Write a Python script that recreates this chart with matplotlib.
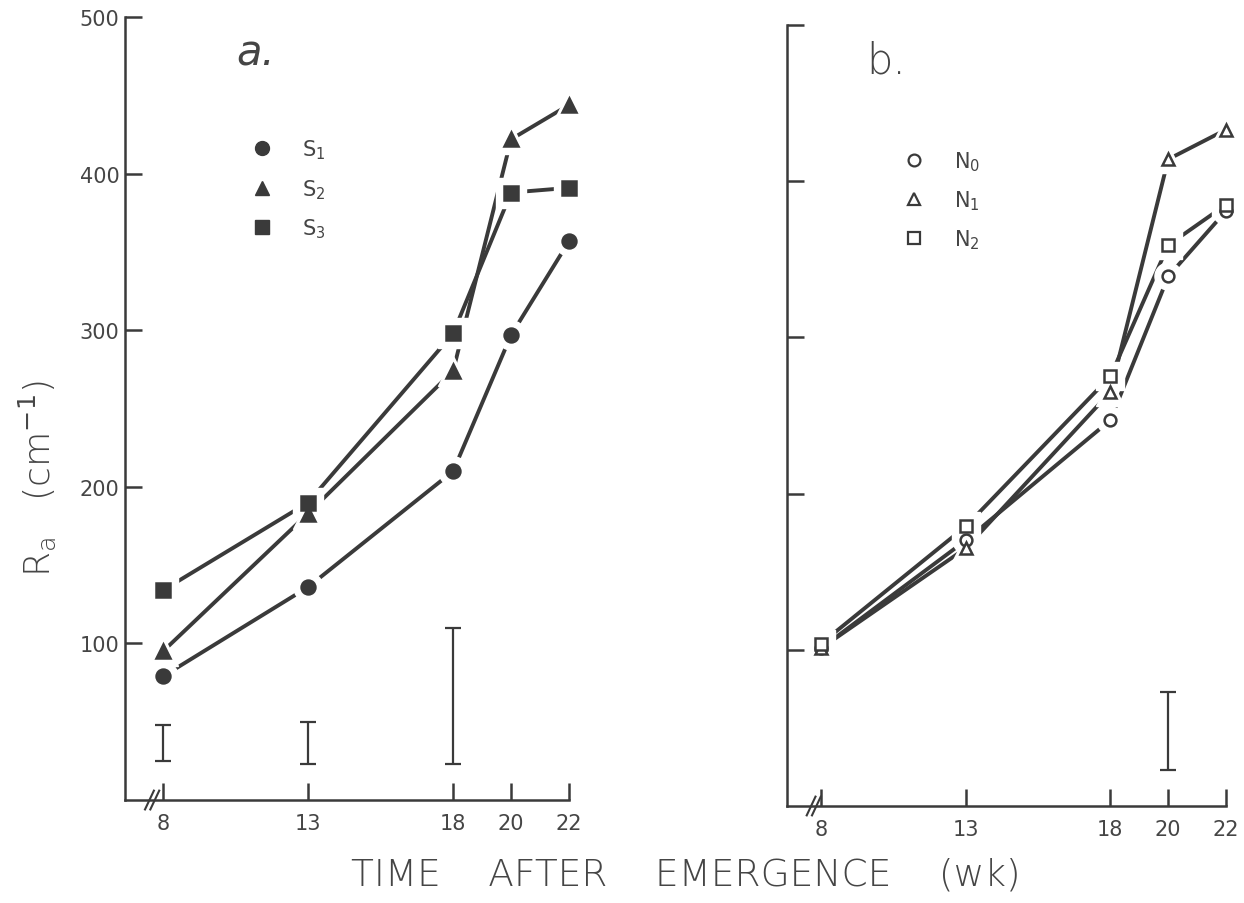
import numpy as np
import matplotlib
matplotlib.use("Agg")
import matplotlib.pyplot as plt
from matplotlib.lines import Line2D

# root length density Ra (cm^-1) against time after emergence (wk)
weeks = [8, 13, 18, 20, 22]

s1 = [79, 136, 210, 297, 357]
s2 = [95, 183, 274, 422, 444]
s3 = [134, 190, 298, 388, 391]

n0 = [101, 170, 247, 339, 381]
n1 = [101, 165, 265, 414, 433]
n2 = [104, 179, 275, 359, 385]

# LSD bars
lsd_a_weeks = [8, 13, 18]
lsd_a_low = [25, 23, 23]
lsd_a_high = [48, 50, 110]
lsd_b_weeks = [20]
lsd_b_low = [23]
lsd_b_high = [73]

ink = "#3a3a3a"
txt = "#454545"
plt.rcParams["font.family"] = ["DejaVu Sans"]
plt.rcParams["mathtext.fontset"] = "dejavusans"

fig = plt.figure(figsize=(12.44, 9.04), dpi=100)
ax_a = fig.add_axes([0.1005, 0.1139, 0.357, 0.866])
ax_b = fig.add_axes([0.6326, 0.1073, 0.353, 0.864])


def draw_series(ax, series, marker, filled, size):
    for ys in series:
        ax.plot(weeks, ys, color=ink, lw=2.8, zorder=2, solid_capstyle="butt")
    # white halos so the lines stop short of the symbols
    for ys, m in zip(series, marker):
        ax.plot(weeks, ys, ls="none", marker=m, ms=size + 11, mfc="white",
                mec="white", zorder=3, clip_on=False)
    for ys, m in zip(series, marker):
        face = ink if filled else "white"
        ax.plot(weeks, ys, ls="none", marker=m, ms=size, mfc=face,
                mec=ink, mew=1.8, zorder=4, clip_on=False)


def style_axes(ax, xleft, show_ylabels):
    ax.set_xlim(xleft, 22)
    ax.set_ylim(0, 500)
    ax.spines["top"].set_visible(False)
    ax.spines["right"].set_visible(False)
    for s in ("left", "bottom"):
        ax.spines[s].set_color(ink)
        ax.spines[s].set_linewidth(1.8)
    ax.set_xticks(weeks)
    ax.set_xticklabels([str(w) for w in weeks])
    ax.set_yticks([100, 200, 300, 400, 500])
    if not show_ylabels:
        ax.set_yticklabels([])
    ax.tick_params(axis="both", direction="in", length=12, width=1.8,
                   color=ink, labelcolor=txt, labelsize=15)
    ax.tick_params(axis="x", pad=9)
    ax.tick_params(axis="y", pad=4)
    # break marks on the time axis
    for dx in (0.0, 0.012):
        ax.plot([0.045 + dx, 0.065 + dx], [-0.012, 0.012], color=ink, lw=1.5,
                transform=ax.transAxes, clip_on=False)


def lsd(ax, xs, lo, hi):
    lo = np.array(lo)
    hi = np.array(hi)
    ax.errorbar(xs, (lo + hi) / 2, yerr=(hi - lo) / 2, fmt="none",
                ecolor=ink, elinewidth=1.6, capsize=6, capthick=1.6)


# panel a: filled symbols
draw_series(ax_a, [s1, s2, s3], ["o", "^", "s"], True, 10)
lsd(ax_a, lsd_a_weeks, lsd_a_low, lsd_a_high)
style_axes(ax_a, 6.69, True)
ax_a.text(0.25, 0.955, "a.", transform=ax_a.transAxes, fontsize=30,
          style="italic", color=txt, ha="left", va="center", fontweight="light")
hand_a = [Line2D([], [], ls="none", marker=m, ms=10, mfc=ink, mec=ink)
          for m in ["o", "^", "s"]]
ax_a.legend(hand_a, ["S$_1$", "S$_2$", "S$_3$"], loc="upper left",
            bbox_to_anchor=(0.22, 0.87), frameon=False, fontsize=15,
            labelcolor=txt, handletextpad=0.9, labelspacing=0.75)

# panel b: open symbols
draw_series(ax_b, [n0, n1, n2], ["o", "^", "s"], False, 8.5)
lsd(ax_b, lsd_b_weeks, lsd_b_low, lsd_b_high)
style_axes(ax_b, 6.82, False)
ax_b.text(0.18, 0.955, "b.", transform=ax_b.transAxes, fontsize=30,
          color=txt, ha="left", va="center", fontweight="light")
hand_b = [Line2D([], [], ls="none", marker=m, ms=8.5, mfc="white", mec=ink,
                 mew=1.6) for m in ["o", "^", "s"]]
ax_b.legend(hand_b, ["N$_0$", "N$_1$", "N$_2$"], loc="upper left",
            bbox_to_anchor=(0.2, 0.865), frameon=False, fontsize=15,
            labelcolor=txt, handletextpad=0.9, labelspacing=0.75)

fig.text(0.551, 0.032, "TIME    AFTER    EMERGENCE    (wk)", ha="center",
         va="center", fontsize=27, color=txt, fontweight="light")
fig.text(0.03, 0.47, r"R$_\mathregular{a}$   (cm$^{-1}$)", rotation=90,
         ha="center", va="center", fontsize=26, color=txt, fontweight="light")

fig.savefig("out.png", dpi=100, facecolor="white")
